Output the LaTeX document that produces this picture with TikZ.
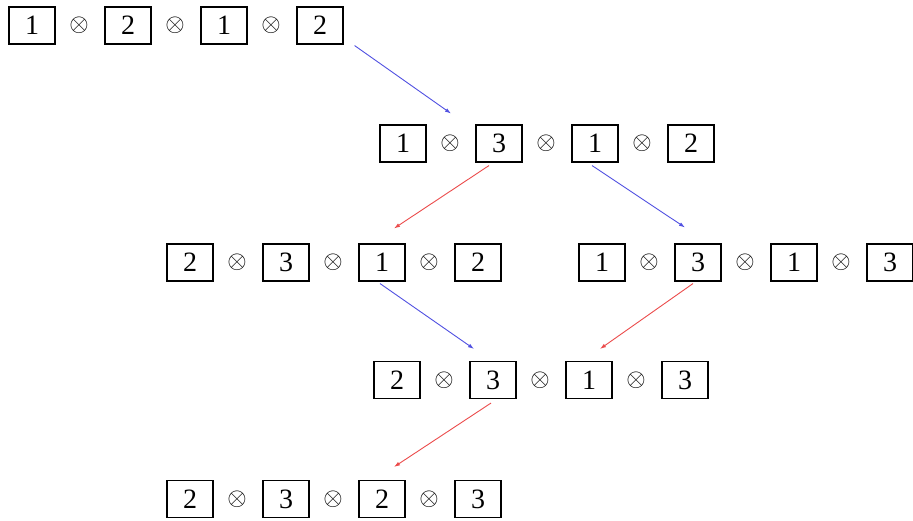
\documentclass[tikz,border=0pt]{standalone}
\usepackage{fontspec}
\setmainfont{Liberation Serif}
\usetikzlibrary{calc,arrows.meta}
\definecolor{arrblue}{RGB}{80,80,225}
\definecolor{arrred}{RGB}{235,75,75}
\tikzset{
  tbox/.style={draw, line width=1.1pt, minimum width=46pt, minimum height=37pt,
    inner sep=0pt, font=\fontsize{28}{28}\selectfont},
  tprod/.style={inner sep=0pt, font=\fontsize{30}{30}\selectfont},
  conn/.style={line width=0.9pt, -{Latex[length=6pt,width=4pt]}},
  bluec/.style={conn, arrblue},
  redc/.style={conn, arrred}
}
\newcommand\tensorrow[7]{%
  \node[tbox] (#1b1) at (#2,#3) {#4};
  \node[tprod] (#1o1) at (#2+47,#3) {$\otimes$};
  \node[tbox] (#1b2) at (#2+96,#3) {#5};
  \node[tprod] (#1o2) at (#2+143,#3) {$\otimes$};
  \node[tbox] (#1b3) at (#2+192,#3) {#6};
  \node[tprod] (#1o3) at (#2+239,#3) {$\otimes$};
  \node[tbox] (#1b4) at (#2+288,#3) {#7};
}
\begin{document}
\begin{tikzpicture}[x=1pt,y=-1pt]
\useasboundingbox (0,0) rectangle (913,521);
\tensorrow{ra}{32}{25.5}{1}{2}{1}{2}
\tensorrow{rb}{403}{143.5}{1}{3}{1}{2}
\tensorrow{rc}{190}{262.5}{2}{3}{1}{2}
\tensorrow{rd}{602}{262.5}{1}{3}{1}{3}
\tensorrow{re}{397}{380}{2}{3}{1}{3}
\tensorrow{rf}{190}{499}{2}{3}{2}{3}
\draw[bluec] ($(rab4.south east)+(11,1)$) -- ($(rbo1)+(1,-30)$);
\draw[redc] ($(rbb2.south)+(-10,3)$) -- ($(rcb3.north)+(12,-15)$);
\draw[bluec] ($(rbb3.south)+(-3,3)$) -- ($(rdb2.north)+(-13,-16)$);
\draw[bluec] ($(rcb3.south)+(-2,2)$) -- ($(reb2.north)+(-19,-12)$);
\draw[redc] ($(rdb2.south)+(-5,2)$) -- ($(reb3.north)+(11,-12)$);
\draw[redc] ($(reb2.south)+(-2,4)$) -- ($(rfb3.north)+(12,-13)$);
\end{tikzpicture}
\end{document}
